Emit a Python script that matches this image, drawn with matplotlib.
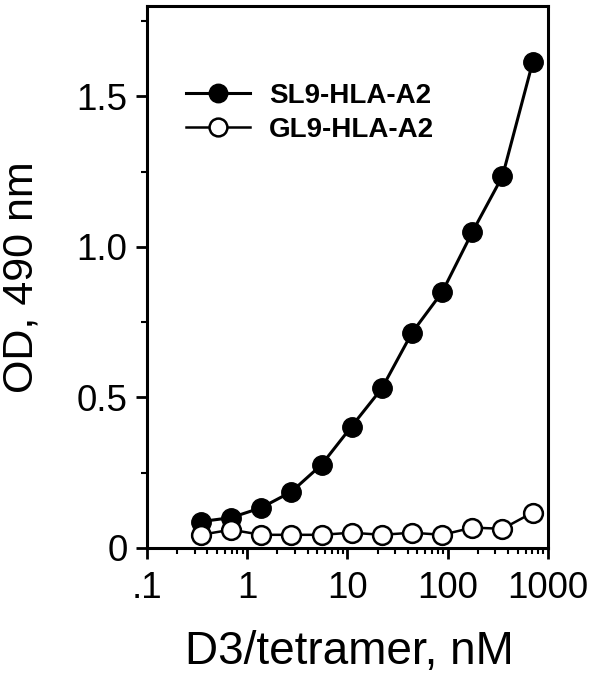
import matplotlib
matplotlib.use("Agg")
import matplotlib.pyplot as plt
from matplotlib.ticker import FixedLocator, LogLocator, NullFormatter

# D3/tetramer concentration (nM), 2-fold dilutions
conc = [0.345, 0.69, 1.38, 2.76, 5.52, 11.0, 22.1, 44.2, 88.4, 177, 353, 707]
# OD at 490 nm
sl9_od = [0.087, 0.10, 0.133, 0.186, 0.276, 0.403, 0.53, 0.715, 0.85, 1.05, 1.235, 1.614]
gl9_od = [0.043, 0.06, 0.043, 0.043, 0.043, 0.05, 0.043, 0.05, 0.043, 0.067, 0.063, 0.117]

xticks = [0.1, 1, 10, 100, 1000]
xtick_labels = [".1", "1", "10", "100", "1000"]
yticks = [0, 0.5, 1.0, 1.5]
ytick_labels = ["0", "0.5", "1.0", "1.5"]

plt.rcParams['font.family'] = ['Liberation Sans', 'DejaVu Sans']

fig = plt.figure(figsize=(6.0, 6.89), dpi=100)
ax = fig.add_axes([0.245, 0.205, 0.668, 0.786])

ax.plot(conc, sl9_od, '-o', color='black', lw=2.2, ms=14,
        mfc='black', mec='black', label='SL9-HLA-A2', zorder=3)
ax.plot(conc, gl9_od, '-o', color='black', lw=1.8, ms=13.5,
        mfc='white', mec='black', mew=1.8, label='GL9-HLA-A2', zorder=4)

ax.set_xscale('log')
ax.set_xlim(0.1, 1000)
ax.set_ylim(0, 1.8)

ax.set_xticks(xticks)
ax.set_xticklabels(xtick_labels)
ax.xaxis.set_minor_locator(LogLocator(base=10, subs=range(2, 10)))
ax.xaxis.set_minor_formatter(NullFormatter())
ax.set_yticks(yticks)
ax.set_yticklabels(ytick_labels)
ax.yaxis.set_minor_locator(FixedLocator([0.25, 0.75, 1.25, 1.75]))

ax.tick_params(axis='both', which='major', direction='out', length=8, width=2,
               labelsize=26.5)
ax.tick_params(axis='x', which='major', pad=9)
ax.tick_params(axis='y', which='major', pad=6)
ax.tick_params(axis='both', which='minor', direction='out', length=4, width=1.5)

for s in ax.spines.values():
    s.set_linewidth(2.2)

ax.set_xlabel('D3/tetramer, nM', fontsize=33)
ax.xaxis.set_label_coords(0.504, -0.152)
ax.set_ylabel('OD, 490 nm', fontsize=31)
ax.yaxis.set_label_coords(-0.262, 0.5)

leg = ax.legend(loc='upper left', bbox_to_anchor=(0.035, 0.905), frameon=False,
                prop={'weight': 'bold', 'size': 20}, handlelength=2.3,
                handletextpad=0.7, labelspacing=0.3, markerscale=0.95)

fig.savefig('out.png', dpi=100, facecolor='white')
